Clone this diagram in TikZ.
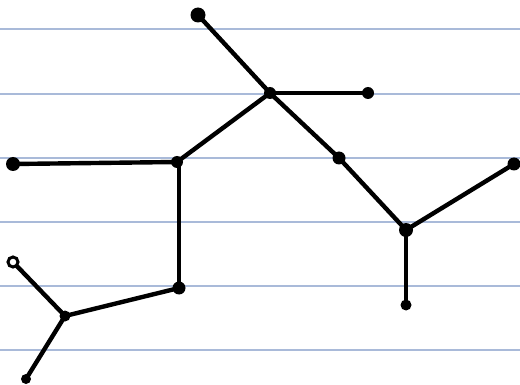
\documentclass[tikz,border=0pt]{standalone}
\begin{document}
\begin{tikzpicture}[x=1pt,y=-1pt,
  ruled/.style={draw=rulecol,line width=1.4pt},
  edge/.style={line width=4.4pt,line cap=round,line join=round},
  dot/.style={circle,fill=black,inner sep=0pt,minimum size=11pt},
  ring/.style={circle,draw=black,line width=3pt,fill=white,inner sep=0pt,minimum size=10pt}]
\definecolor{rulecol}{HTML}{A9BAD9}
\useasboundingbox (0,0) rectangle (520,385);
\fill[white] (0,0) rectangle (520,385);
\foreach \y in {29,94,158,222,286,350} \draw[ruled] (0,\y) -- (520,\y);
\coordinate (A) at (198,15);
\coordinate (B) at (270,93);
\coordinate (C) at (368,93);
\coordinate (D) at (177,162);
\coordinate (E) at (13,164);
\coordinate (F) at (339,158);
\coordinate (G) at (406,230);
\coordinate (H) at (514,164);
\coordinate (I) at (406,305);
\coordinate (J) at (179,288);
\coordinate (K) at (65,316);
\coordinate (L) at (13,262);
\coordinate (M) at (26,379);
\draw[edge] (A) -- (B);
\draw[edge] (B) -- (C);
\draw[edge] (B) -- (D);
\draw[edge] (D) -- (E);
\draw[edge] (B) -- (F);
\draw[edge] (F) -- (G);
\draw[edge] (G) -- (H);
\draw[edge] (G) -- (I);
\draw[edge] (D) -- (179,162) -- (J);
\draw[edge] (J) -- (K);
\draw[edge] (K) -- (L);
\draw[edge] (K) -- (M);
\node[dot,minimum size=15pt] (nA) at (A) {};
\node[dot,minimum size=12pt] (nB) at (B) {};
\node[dot,minimum size=12pt] (nC) at (C) {};
\node[dot,minimum size=12pt] (nD) at (D) {};
\node[dot,minimum size=14pt] (nE) at (E) {};
\node[dot,minimum size=13pt] (nF) at (F) {};
\node[dot,minimum size=14pt] (nG) at (G) {};
\node[dot,minimum size=13pt] (nH) at (H) {};
\node[dot,minimum size=11pt] (nI) at (I) {};
\node[dot,minimum size=13pt] (nJ) at (J) {};
\node[dot,minimum size=11pt] (nK) at (K) {};
\node[ring] (nL) at (L) {};
\node[dot,minimum size=10pt] (nM) at (M) {};
\end{tikzpicture}
\end{document}
